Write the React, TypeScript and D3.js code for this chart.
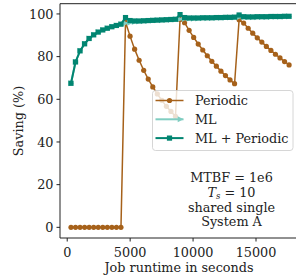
import React, { useRef, useEffect } from 'react';
import * as d3 from 'd3';

// job runtimes (seconds)
const runtimes = [
  300, 661, 1022, 1383, 1744, 2105, 2466, 2827, 3188, 3549, 3910, 4271,
  4632, 4993, 5354, 5715, 6076, 6437, 6798, 7159, 7520, 7881, 8242, 8603,
  8964, 9325, 9686, 10047, 10408, 10769, 11130, 11491, 11852, 12213, 12574, 12935, 13296,
  13657, 14018, 14379, 14740, 15101, 15462, 15823, 16184, 16545, 16906, 17267, 17628,
];

const periodic = [
  0, 0, 0, 0, 0, 0, 0, 0, 0, 0, 0, 0,
  96.2, 89.6, 83.5, 78.3, 73.6, 69.5, 65.8, 62.5, 59.5, 56.7, 54.3, 52.0,
  97.4, 95.9, 92.3, 89.0, 85.9, 83.1, 80.4, 77.8, 75.5, 73.2, 71.1, 69.1, 67.3,
  97.3, 95.7, 93.3, 91.0, 88.8, 86.8, 84.8, 82.9, 81.1, 79.4, 77.7, 76.1,
];

const ml = [
  67.5, 77.5, 82.7, 86.0, 88.5, 90.2, 91.5, 92.5, 93.3, 94.0, 94.6, 95.2,
  95.6, 95.9, 96.2, 96.4, 96.6, 96.7, 96.9, 97.0, 97.1, 97.2, 97.3, 97.4,
  97.5, 97.6, 97.7, 97.8, 97.9, 98.0, 98.0, 98.1, 98.1, 98.2, 98.2, 98.3, 98.3,
  98.4, 98.4, 98.5, 98.5, 98.5, 98.6, 98.6, 98.6, 98.7, 98.7, 98.7, 98.8,
];

const mlPeriodic = [
  67.5, 77.5, 82.7, 86.0, 88.5, 90.2, 91.5, 92.5, 93.3, 94.0, 94.6, 95.2,
  98.3, 96.9, 96.7, 96.7, 96.8, 96.9, 97.0, 97.1, 97.2, 97.3, 97.4, 97.5,
  99.7, 98.3, 98.1, 98.1, 98.1, 98.2, 98.2, 98.2, 98.3, 98.3, 98.4, 98.4, 98.5,
  99.5, 98.7, 98.6, 98.6, 98.7, 98.7, 98.7, 98.8, 98.8, 98.8, 98.9, 98.9,
];

const xTicks = [0, 5000, 10000, 15000];
const yTicks = [0, 20, 40, 60, 80, 100];
const annotation = ['MTBF = 1e6', 'Ts', 'shared single', 'System A'];

const BROWN = '#a6611a';
const LIGHT = '#80cdc1';
const DARK = '#018571';
const FONT = '"DejaVu Serif", serif';
const FS = '12.8px';

function SavingChart({ width = 296, height = 280 }) {
  const svgRef = useRef<SVGSVGElement | null>(null);

  useEffect(() => {
    const svg = d3.select(svgRef.current);
    svg.selectAll('*').remove();
    svg.attr('width', width).attr('height', height);

    const x = d3.scaleLinear().domain([-573, 18495]).range([60, 300]);
    const y = d3.scaleLinear().domain([-5, 104.8]).range([238, 3.7]);

    const g = svg.append('g').style('font-family', FONT);

    // series
    const line = (vals: number[]) =>
      d3.line<number>().x((d, i) => x(runtimes[i])).y((d) => y(d))(vals);

    g.append('path').attr('d', line(periodic)).attr('fill', 'none')
      .attr('stroke', BROWN).attr('stroke-width', 1.5);
    g.selectAll('.dot-p').data(periodic).enter().append('circle')
      .attr('cx', (d, i) => x(runtimes[i])).attr('cy', (d) => y(d))
      .attr('r', 2.6).attr('fill', BROWN);

    const tri = 'M-2.8,-3L3,0L-2.8,3Z';
    g.append('path').attr('d', line(ml)).attr('fill', 'none')
      .attr('stroke', LIGHT).attr('stroke-width', 2);
    g.selectAll('.dot-ml').data(ml).enter().append('path')
      .attr('d', tri)
      .attr('transform', (d, i) => `translate(${x(runtimes[i])},${y(d)})`)
      .attr('fill', LIGHT);

    g.append('path').attr('d', line(mlPeriodic)).attr('fill', 'none')
      .attr('stroke', DARK).attr('stroke-width', 2);
    g.selectAll('.dot-mp').data(mlPeriodic).enter().append('rect')
      .attr('x', (d, i) => x(runtimes[i]) - 2.6).attr('y', (d) => y(d) - 2.6)
      .attr('width', 5.2).attr('height', 5.2).attr('fill', DARK);

    // spines
    g.append('line').attr('x1', 60).attr('x2', 60).attr('y1', 3.7).attr('y2', 238)
      .attr('stroke', '#222').attr('stroke-width', 1);
    g.append('line').attr('x1', 60).attr('x2', 300).attr('y1', 238).attr('y2', 238)
      .attr('stroke', '#222').attr('stroke-width', 1);
    g.append('line').attr('x1', 60).attr('x2', 300).attr('y1', 3.7).attr('y2', 3.7)
      .attr('stroke', '#222').attr('stroke-width', 1);

    // y ticks
    yTicks.forEach((t) => {
      g.append('line').attr('x1', 56.5).attr('x2', 60).attr('y1', y(t)).attr('y2', y(t))
        .attr('stroke', '#222');
      g.append('text').attr('x', 53.5).attr('y', y(t) + 4.6).attr('text-anchor', 'end')
        .style('font-size', FS).attr('fill', '#222').text(t);
    });
    // x ticks
    xTicks.forEach((t) => {
      g.append('line').attr('x1', x(t)).attr('x2', x(t)).attr('y1', 238).attr('y2', 241.5)
        .attr('stroke', '#222');
      g.append('text').attr('x', x(t)).attr('y', 256.7).attr('text-anchor', 'middle')
        .style('font-size', FS).attr('fill', '#222').text(t);
    });

    g.append('text').attr('x', 179).attr('y', 272).attr('text-anchor', 'middle')
      .style('font-size', FS).attr('fill', '#222').text('Job runtime in seconds');
    g.append('text').attr('transform', 'translate(22.5,121) rotate(-90)')
      .attr('text-anchor', 'middle').style('font-size', FS).attr('fill', '#222')
      .text('Saving (%)');

    // legend
    const lg = g.append('g').attr('transform', 'translate(152.5,90.5)');
    lg.append('rect').attr('width', 140.5).attr('height', 60).attr('rx', 3)
      .attr('fill', 'white').attr('fill-opacity', 0.8)
      .attr('stroke', '#cccccc').attr('stroke-width', 0.8);
    const rows = [
      { label: 'Periodic', color: BROWN, w: 1.5 },
      { label: 'ML', color: LIGHT, w: 2 },
      { label: 'ML + Periodic', color: DARK, w: 2 },
    ];
    rows.forEach((r, i) => {
      const cy = 10 + i * 18.8;
      lg.append('line').attr('x1', 3).attr('x2', 31).attr('y1', cy).attr('y2', cy)
        .attr('stroke', r.color).attr('stroke-width', r.w);
      if (i === 0) lg.append('circle').attr('cx', 17).attr('cy', cy).attr('r', 2.6).attr('fill', BROWN);
      if (i === 1) lg.append('path').attr('d', tri).attr('transform', `translate(28,${cy})`).attr('fill', LIGHT);
      if (i === 2) lg.append('rect').attr('x', 14.4).attr('y', cy - 2.6).attr('width', 5.2).attr('height', 5.2).attr('fill', DARK);
      lg.append('text').attr('x', 42.5).attr('y', cy + 4.6)
        .style('font-size', FS).attr('fill', '#222').text(r.label);
    });

    // annotation
    const ax = 231.5;
    annotation.forEach((s, i) => {
      const t = g.append('text').attr('x', ax).attr('y', 182.3 + i * 14.6)
        .attr('text-anchor', 'middle').style('font-size', FS).attr('fill', '#222');
      if (s === 'Ts') {
        t.append('tspan').style('font-style', 'italic').text('T');
        t.append('tspan').style('font-style', 'italic').style('font-size', '8.5px')
          .attr('dy', 1.8).text('s');
        t.append('tspan').attr('dy', -1.8).text(' = 10');
      } else {
        t.text(s);
      }
    });
  }, [width, height]);

  return <svg ref={svgRef} style={{ display: 'block' }}></svg>;
}

export default function App() {
  return (
    <div style={{ position: 'absolute', left: 0, top: 0 }}>
      <SavingChart />
    </div>
  );
}
